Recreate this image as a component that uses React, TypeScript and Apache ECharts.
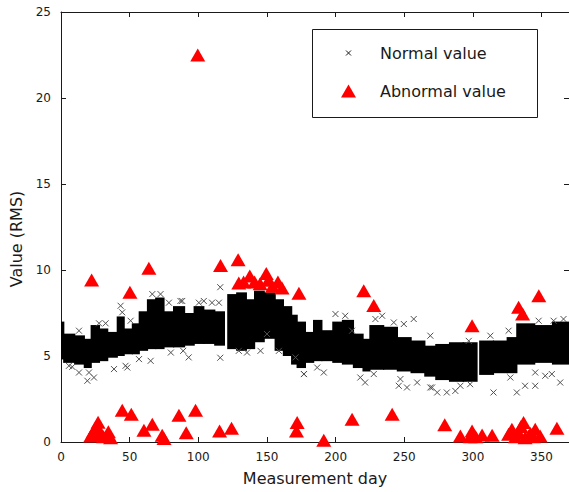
import React, { useEffect, useRef } from 'react';
import * as echarts from 'echarts';

// ---- axis settings ----
const xRange = [0, 370];
const xStep = 50;
const yRange = [0, 25];
const yStep = 5;
const xTitle = 'Measurement day';
const yTitle = 'Value (RMS)';
const seriesNames = ['Normal value', 'Abnormal value'];

// ---- dense core of normal values: day segments with low/high edge ----
const bandStart = [0, 2, 10, 17, 22, 28, 34, 41, 46, 52, 57, 63, 69, 75, 82, 90, 97, 104, 112, 121.5, 128, 135, 141, 148, 156, 162, 168, 172, 178, 184, 190, 198, 205, 213, 220, 225, 235, 245, 255, 265, 273, 283, 293, 305, 315, 325, 332, 345, 358];
const bandEnd = [2, 10, 17, 22, 28, 34, 41, 46, 52, 57, 63, 69, 75, 82, 90, 97, 104, 112, 119, 128, 135, 141, 148, 156, 162, 168, 172, 178, 184, 190, 198, 205, 213, 220, 225, 235, 245, 255, 265, 273, 283, 293, 303, 315, 325, 332, 345, 358, 370];
const bandLow = [4.8, 4.6, 4.5, 4.3, 4.6, 4.7, 4.9, 5.0, 5.1, 5.1, 5.3, 5.4, 5.4, 5.5, 5.5, 5.6, 5.7, 5.7, 5.6, 5.4, 5.3, 5.4, 5.8, 6.0, 5.3, 5.0, 4.5, 4.3, 4.6, 4.7, 4.7, 4.6, 4.5, 4.3, 4.1, 4.2, 4.2, 4.1, 4.0, 3.8, 3.6, 3.5, 3.5, 3.9, 4.0, 4.0, 4.5, 4.6, 4.5];
const bandHigh = [7.0, 6.3, 6.2, 6.0, 6.8, 6.6, 6.4, 7.3, 6.6, 6.9, 7.6, 8.3, 8.4, 7.6, 7.9, 7.5, 7.9, 7.7, 7.6, 8.6, 8.7, 8.3, 8.8, 8.7, 8.3, 7.9, 7.4, 7.0, 6.4, 7.1, 6.5, 7.0, 7.1, 6.3, 6.0, 6.8, 6.7, 6.1, 5.9, 5.6, 5.7, 5.8, 5.8, 5.9, 5.9, 6.1, 6.9, 6.8, 7.0];

// ---- scattered normal values outside the dense core ----
const outlierDay = [5.8, 8.2, 13.1, 19.2, 20.4, 24, 13.1, 27.7, 32.5, 38.6, 43.4, 44.6, 47, 48.3, 50.7, 56.8, 65.3, 66.5, 72.5, 80, 78.6, 87, 110, 116, 116, 89, 93, 104, 115, 129.5, 135.5, 145.3, 150, 158.7, 170.8, 176.9, 88.3, 100.4, 177, 186.6, 191.4, 199.9, 207, 212, 218, 221.5, 227.8, 229, 233.9, 242.4, 246, 247.2, 249.7, 256.9, 259.4, 252, 269, 269, 270.3, 274, 281, 287.2, 290.9, 297, 298, 312.7, 315, 326, 327.3, 332, 338, 345.4, 345.4, 352.7, 357.5, 358.8, 366, 363.6, 347.9];
const outlierValue = [4.43, 4.37, 4.04, 3.56, 4.04, 3.75, 6.47, 6.9, 6.9, 4.24, 7.92, 7.54, 4.43, 4.33, 7.05, 4.82, 4.72, 8.6, 8.6, 5.2, 8.1, 8.2, 8.1, 9.0, 4.9, 5.3, 4.92, 8.2, 8.1, 5.3, 5.2, 5.3, 6.28, 5.3, 4.92, 3.95, 8.2, 8.1, 3.95, 4.33, 4.04, 7.44, 7.34, 6.47, 3.75, 3.46, 3.95, 7.15, 7.34, 6.95, 3.27, 3.66, 6.86, 7.15, 3.46, 3.17, 3.17, 6.18, 3.17, 2.88, 2.88, 2.97, 3.27, 5.88, 3.36, 6.18, 2.88, 6.47, 3.75, 2.88, 3.27, 3.27, 4.04, 3.85, 3.95, 7.05, 7.15, 3.46, 7.05];

// ---- abnormal values ----
const abnormalDay = [22.3, 50.2, 64, 99.6, 116.2, 129, 129.5, 133, 137.5, 141, 145, 149.5, 151, 154, 158, 161, 173.3, 220.5, 227.8, 299.4, 333.3, 336.2, 348,
  21.6, 23.5, 25.2, 26.5, 27, 29, 31, 33.7, 34.5, 36.1, 44.6, 51.2, 60.4, 66.5, 73.7, 75, 85.9, 91.2, 98, 115.5, 124.2, 171.5, 172, 191.4, 212, 241.2, 279.5, 290.9, 298, 299.4, 302, 306.7, 314, 326, 328.4, 331, 333.3, 335, 336.9, 338, 340.6, 342, 344, 345.4, 349, 361.2];
const abnormalValue = [9.42, 8.7, 10.1, 22.5, 10.26, 10.6, 9.25, 9.3, 9.65, 9.3, 9.2, 9.8, 9.4, 9.05, 9.3, 8.95, 8.65, 8.8, 7.93, 6.76, 7.83, 7.44, 8.51,
  0.35, 0.6, 0.83, 0.4, 1.15, 0.54, 0.3, 0.35, 0.6, 0.25, 1.84, 1.61, 0.68, 1.03, 0.39, 0.2, 1.55, 0.54, 1.84, 0.64, 0.8, 0.64, 1.13, 0.1, 1.32, 1.61, 1.0, 0.35, 0.3, 0.64, 0.3, 0.41, 0.39, 0.45, 0.74, 0.3, 0.54, 0.9, 1.13, 0.25, 0.35, 0.5, 0.3, 0.74, 0.35, 0.8];

const FONT = 'DejaVu Sans';
const INK = '#1a1a1a';
const X_MARK = 'path://M0,0L10,10M10,0L0,10';
const X_LEGEND = 'path://M0,0M26,26M8,8L18,18M18,8L8,18';

export default function App() {
  const ref = useRef<HTMLDivElement>(null);

  useEffect(() => {
    if (!ref.current) return;
    const chart = echarts.init(ref.current, undefined, { renderer: 'svg' });

    const bandData = bandStart.map((s, i) => [s, bandEnd[i], bandLow[i], bandHigh[i]]);
    const outlierData = outlierDay.map((d, i) => [d, outlierValue[i]]);
    const abnormalData = abnormalDay.map((d, i) => [d, abnormalValue[i]]);

    const axisCommon = {
      axisLine: { show: true, onZero: false, lineStyle: { color: INK, width: 1 } },
      axisTick: { show: true, inside: true, length: 5, lineStyle: { color: INK } },
      splitLine: { show: false },
    };

    chart.setOption({
      animation: false,
      backgroundColor: '#ffffff',
      grid: { left: 61, right: -2, top: 12, bottom: 50 },
      xAxis: [
        {
          type: 'value', position: 'bottom', min: xRange[0], max: xRange[1], interval: xStep,
          ...axisCommon,
          axisLabel: { color: INK, fontFamily: FONT, fontSize: 12, margin: 9, showMaxLabel: false },
          name: xTitle, nameLocation: 'middle', nameGap: 28,
          nameTextStyle: { color: INK, fontFamily: FONT, fontSize: 16 },
        },
        {
          type: 'value', position: 'top', min: xRange[0], max: xRange[1], interval: xStep,
          ...axisCommon, axisLabel: { show: false },
        },
      ],
      yAxis: [
        {
          type: 'value', position: 'left', min: yRange[0], max: yRange[1], interval: yStep,
          ...axisCommon,
          axisLabel: { color: INK, fontFamily: FONT, fontSize: 12, margin: 10 },
          name: yTitle, nameLocation: 'middle', nameGap: 33,
          nameTextStyle: { color: INK, fontFamily: FONT, fontSize: 16, padding: [0, 24, 0, 0] },
        },
        {
          type: 'value', position: 'right', min: yRange[0], max: yRange[1], interval: yStep,
          ...axisCommon, axisLabel: { show: false },
        },
      ],
      legend: {
        orient: 'vertical', left: 341, top: 45, padding: 0, itemGap: 22, z: 20,
        itemWidth: 15, itemHeight: 13, selectedMode: false,
        textStyle: { color: INK, fontFamily: FONT, fontSize: 16, padding: [0, 0, 0, 19] },
        data: [
          { name: seriesNames[0], icon: X_LEGEND, itemStyle: { color: INK, borderColor: INK, borderWidth: 1, opacity: 1 } },
          { name: seriesNames[1], icon: 'triangle', itemStyle: { color: '#ff0000', opacity: 1 } },
        ],
      },
      graphic: [
        {
          type: 'rect', z: 10,
          shape: { x: 312.5, y: 29.5, width: 225, height: 88 },
          style: { fill: '#ffffff', stroke: INK, lineWidth: 1 },
        },
      ],
      series: [
        {
          name: seriesNames[0], type: 'scatter', z: 3,
          symbol: X_MARK, symbolSize: 6,
          itemStyle: { color: '#505050', borderColor: '#505050', borderWidth: 1, opacity: 1 },
          emphasis: { disabled: true },
          data: outlierData,
        },
        {
          name: seriesNames[0], type: 'custom', z: 2, clip: true,
          itemStyle: { color: '#000000', borderWidth: 0, opacity: 1 },
          emphasis: { disabled: true },
          encode: { x: [0, 1], y: [2, 3] },
          renderItem: (params: any, api: any) => {
            const a = api.coord([api.value(0), api.value(3)]);
            const b = api.coord([api.value(1), api.value(2)]);
            const x0 = a[0] - 0.6;
            const x1 = b[0] + 0.6;
            return {
              type: 'polygon',
              shape: { points: [[x0, a[1]], [x1, a[1]], [x1, b[1]], [x0, b[1]]] },
              style: { fill: '#000000', stroke: 'none' },
            };
          },
          data: bandData,
        },
        {
          name: seriesNames[1], type: 'scatter', z: 4,
          symbol: 'triangle', symbolSize: [15, 13],
          itemStyle: { color: '#ff0000', opacity: 1 },
          emphasis: { disabled: true },
          data: abnormalData,
        },
      ],
    });

    return () => chart.dispose();
  }, []);

  return (
    <div
      ref={ref}
      style={{ position: 'absolute', left: 0, top: 0, width: 569, height: 492, background: '#fff' }}
    />
  );
}
